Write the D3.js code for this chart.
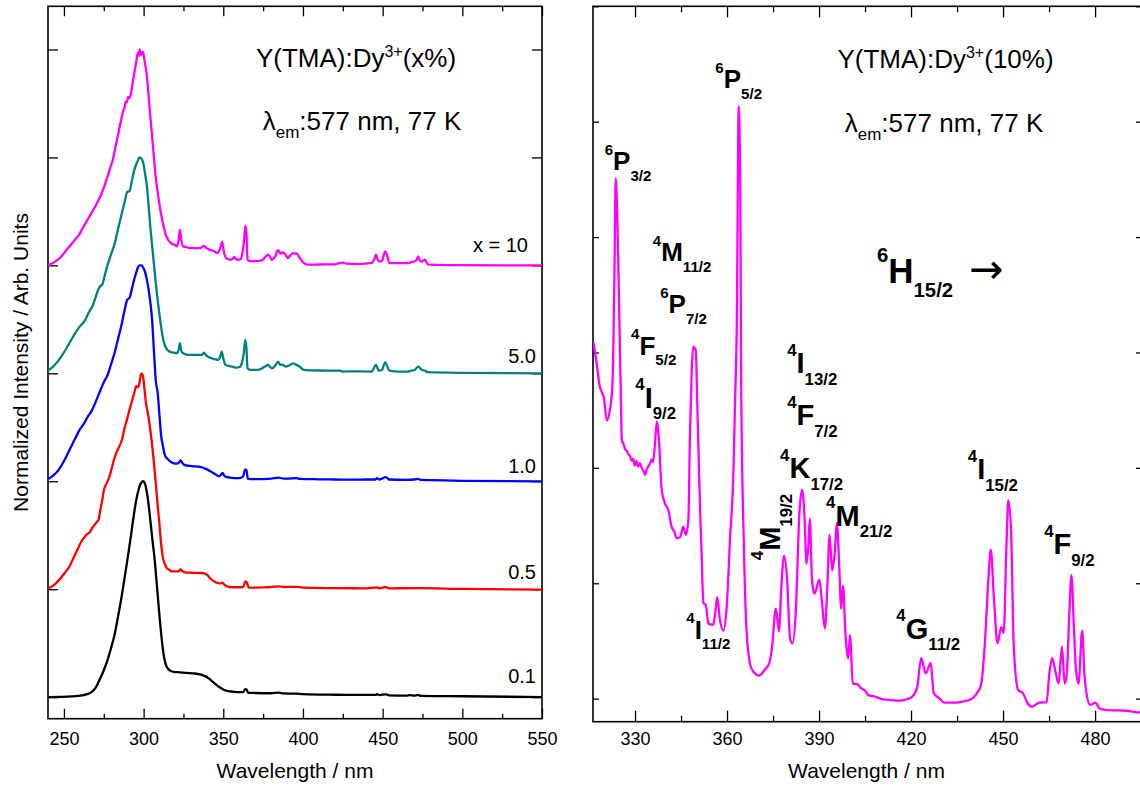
<!DOCTYPE html>
<html>
<head>
<meta charset="utf-8">
<script src="https://cdn.jsdelivr.net/npm/d3@7"></script>
<style>
  html, body { margin: 0; padding: 0; background: #fff; }
  svg { display: block; font-family: "Liberation Sans", Arial, Helvetica, sans-serif; }
</style>
</head>
<body>
<svg id="chart" width="1140" height="788"></svg>
<script>
// ---------- Left panel: excitation spectra for several Dy3+ contents (normalised) ----------
const seriesLabels = ["0.1", "0.5", "1.0", "5.0", "x = 10"];
const seriesColors = ["#000000", "#ff0000", "#0000ff", "#008080", "#ff00ff"];

// [wavelength nm, normalised intensity]
const dy01 = [[240,0],[255,0.003],[261.7,0.008],[265,0.015],[267.3,0.023],[270,0.045],[271.7,0.07],[274.5,0.115],[277.3,0.17],[279.5,0.225],[281.8,0.29],[284,0.375],[286.3,0.47],[288,0.55],[289.7,0.63],[291.9,0.74],[293.6,0.83],[295.3,0.91],[297,0.965],[298.2,0.99],[299.7,1.0],[301,0.985],[302,0.95],[303,0.9],[304.2,0.82],[305.5,0.73],[306.9,0.64],[308.3,0.52],[309.8,0.39],[311.2,0.28],[312.7,0.19],[314,0.15],[315.4,0.13],[317.5,0.12],[319.9,0.116],[323,0.115],[326.6,0.112],[331,0.11],[335.6,0.105],[337.5,0.1],[339,0.096],[340.6,0.088],[342.3,0.078],[344.5,0.064],[346.8,0.05],[349,0.04],[351.3,0.031],[355,0.026],[358,0.023],[362.5,0.023],[363.8,0.037],[364.6,0.035],[365.6,0.02],[370,0.019],[380,0.018],[384.9,0.021],[387,0.017],[396,0.016],[400,0.014],[420,0.011],[434,0.01],[445.5,0.01],[446.5,0.014],[448,0.009],[452,0.013],[454,0.008],[465,0.007],[467,0.009],[470,0.007],[472,0.01],[474,0.006],[500,0.004],[550,0.0]];

const dy05 = [[240,0.003],[243,0.015],[247,0.043],[250.5,0.075],[253.8,0.11],[256,0.145],[258.3,0.18],[260.5,0.215],[262.8,0.24],[264.5,0.255],[266.1,0.262],[267.8,0.285],[269.5,0.3],[271,0.315],[271.7,0.32],[272.3,0.345],[272.9,0.37],[274,0.41],[275.1,0.46],[276.8,0.49],[278.5,0.52],[280,0.56],[281.8,0.61],[284,0.65],[286.3,0.69],[288,0.745],[289.7,0.79],[291.3,0.835],[293,0.88],[294.2,0.91],[295.3,0.94],[296.5,0.935],[297.5,0.96],[298.5,1.0],[299.5,0.99],[300.5,0.93],[301.5,0.86],[302.3,0.83],[303,0.8],[304.5,0.72],[306.5,0.585],[308.2,0.44],[309.8,0.31],[311,0.21],[312,0.15],[313.2,0.12],[314.3,0.1],[316,0.09],[317.7,0.082],[320,0.082],[322,0.083],[323.3,0.092],[324.4,0.083],[326.6,0.077],[330,0.076],[335,0.075],[337.8,0.074],[340,0.065],[342.3,0.046],[344.5,0.035],[346.8,0.028],[348.5,0.027],[349.5,0.03],[350.5,0.022],[353.5,0.01],[358,0.009],[362.5,0.01],[363.8,0.036],[364.8,0.03],[366,0.007],[375,0.008],[380,0.01],[384.9,0.013],[388,0.01],[396,0.011],[400,0.007],[420,0.005],[440,0.004],[446.5,0.008],[448,0.004],[452,0.01],[454,0.004],[472,0.005],[500,0.001],[550,-0.002]];

const dy10 = [[240,0.01],[243,0.025],[246,0.046],[249,0.08],[251.6,0.116],[254.5,0.16],[257.2,0.2],[260,0.24],[262.8,0.27],[265,0.3],[267.3,0.325],[269.5,0.36],[271.7,0.4],[273.4,0.43],[275.1,0.46],[277.3,0.49],[279.5,0.54],[281.8,0.595],[284,0.66],[286.3,0.73],[288,0.79],[289.7,0.84],[291.2,0.85],[292.6,0.89],[294.1,0.935],[295.3,0.965],[296.4,0.99],[297.5,1.0],[298.6,1.0],[299.7,0.99],[300.9,0.97],[302,0.935],[303.1,0.89],[304.2,0.83],[305.3,0.75],[306.5,0.6],[307.6,0.47],[308.8,0.41],[310,0.3],[311,0.21],[312.2,0.16],[313.2,0.124],[314.8,0.105],[316.5,0.093],[318,0.086],[319.9,0.082],[321.5,0.083],[322.5,0.09],[323.3,0.096],[324.2,0.085],[325.5,0.076],[330,0.07],[335.6,0.066],[339,0.057],[341,0.05],[343.4,0.039],[345.5,0.03],[347.2,0.023],[348.5,0.03],[349.5,0.039],[350.5,0.027],[351.7,0.02],[355,0.016],[358,0.014],[361,0.016],[362.5,0.024],[363.8,0.055],[364.6,0.05],[365.4,0.012],[367,0.01],[375,0.01],[378,0.011],[380,0.012],[384.9,0.017],[387,0.013],[390,0.012],[396,0.014],[398,0.011],[410,0.009],[420,0.008],[430,0.007],[440,0.008],[445.4,0.008],[446.5,0.014],[448,0.008],[452,0.019],[454,0.008],[465,0.006],[470,0.008],[472.3,0.011],[474,0.006],[480,0.005],[500,0.002],[550,-0.001]];

const dy50 = [[240,0.012],[243,0.03],[246,0.054],[249,0.085],[251.6,0.116],[255,0.16],[258.3,0.2],[260.5,0.222],[262.8,0.24],[265.5,0.28],[268.4,0.32],[270,0.355],[271.7,0.39],[273,0.405],[274,0.41],[275.5,0.45],[277.3,0.5],[279.5,0.55],[281.8,0.6],[284,0.67],[286.3,0.74],[288,0.79],[289.7,0.84],[290.5,0.842],[291.2,0.845],[292.6,0.89],[294.1,0.94],[295.8,0.975],[297.5,1.0],[298.6,0.995],[299.7,0.977],[300.8,0.93],[302,0.87],[303.1,0.78],[304.2,0.68],[305.9,0.55],[307.6,0.42],[309.3,0.31],[310.9,0.22],[312.2,0.16],[313.6,0.124],[315,0.108],[316.5,0.1],[318.5,0.096],[321,0.093],[322,0.11],[322.8,0.14],[323.6,0.105],[324.8,0.093],[328.9,0.085],[333,0.085],[336.7,0.085],[337.8,0.096],[339,0.085],[342.3,0.07],[344.5,0.066],[346.8,0.062],[348,0.075],[349,0.1],[350,0.07],[351.3,0.039],[353.5,0.034],[355.8,0.031],[358,0.026],[360,0.028],[361.6,0.046],[362.8,0.09],[363.8,0.155],[364.5,0.12],[365.2,0.023],[367,0.016],[372,0.016],[376,0.031],[378.2,0.039],[379.3,0.03],[380.4,0.023],[382.5,0.035],[384.4,0.054],[385.5,0.04],[387.1,0.039],[389.4,0.031],[391,0.035],[393.8,0.046],[396,0.039],[398,0.03],[400.6,0.016],[410,0.013],[423,0.012],[425.2,0.008],[430,0.009],[443.1,0.008],[445.8,0.039],[447.6,0.012],[449.5,0.015],[451.6,0.05],[454.3,0.012],[460,0.008],[465.5,0.008],[468,0.012],[470,0.015],[472.3,0.031],[474.5,0.016],[476.7,0.012],[478,0.005],[500,0.002],[550,0]];

const dy100 = [[240,0],[244,0.015],[248.2,0.04],[251.5,0.07],[254.9,0.1],[257,0.12],[259.4,0.14],[261.6,0.17],[263.9,0.2],[266.7,0.235],[269.5,0.27],[271.2,0.295],[272.9,0.32],[275,0.36],[277.3,0.41],[279,0.45],[280.7,0.49],[282.4,0.55],[284.1,0.61],[285.8,0.67],[287.4,0.72],[288.2,0.735],[288.8,0.76],[289.5,0.755],[290.3,0.78],[291.1,0.775],[291.9,0.79],[293,0.84],[294.1,0.89],[295.2,0.935],[296.4,0.985],[297,0.97],[297.5,1.0],[298.1,0.98],[298.6,0.975],[299.2,0.99],[299.7,0.985],[300.8,0.94],[302,0.88],[303.1,0.79],[304.2,0.69],[305.9,0.55],[307.6,0.41],[309.2,0.32],[310.9,0.24],[312.6,0.18],[314.3,0.134],[316,0.112],[317.7,0.1],[319.4,0.095],[321,0.088],[322,0.12],[322.8,0.165],[323.6,0.12],[324.8,0.088],[326.8,0.085],[328.9,0.08],[332,0.08],[335.6,0.08],[336.7,0.085],[337.8,0.09],[339.5,0.08],[341.2,0.073],[344,0.066],[346.3,0.057],[347.5,0.07],[348.5,0.09],[349.3,0.11],[350.2,0.07],[351.7,0.034],[353.5,0.028],[354.6,0.026],[355.8,0.03],[356.9,0.039],[358,0.028],[359.1,0.026],[361,0.03],[362,0.057],[363,0.11],[363.8,0.184],[364.5,0.15],[365.2,0.026],[367,0.02],[371,0.02],[374.8,0.026],[376.5,0.04],[378.2,0.05],[379.3,0.04],[380.4,0.026],[382.5,0.04],[384.4,0.07],[385.9,0.054],[387,0.06],[388.2,0.057],[389.4,0.045],[390.5,0.034],[392,0.045],[393.8,0.057],[395,0.054],[396,0.055],[397.5,0.04],[399.4,0.02],[402.8,0.003],[410,0.004],[420,0.005],[423,0.011],[425.2,0.013],[427,0.008],[435,0.006],[443.1,0.011],[444.8,0.03],[445.8,0.05],[446.8,0.03],[447.6,0.018],[449.5,0.02],[451.6,0.065],[452.6,0.05],[454.3,0.011],[458,0.01],[465.5,0.01],[468,0.015],[470,0.018],[471.3,0.025],[472.3,0.042],[473.4,0.022],[474.5,0.018],[475.5,0.022],[476.7,0.026],[477.8,0.01],[479,0.003],[490,0.001],[550,0]];

const leftSeries = [dy01, dy05, dy10, dy50, dy100];
const leftTicksMajor = [250, 300, 350, 400, 450, 500, 550];
const leftTicksMinor = [275, 325, 375, 425, 475, 525];
const leftTicksY = [0, 0.5, 1, 1.5, 2, 2.5, 3];

// ---------- Right panel: excitation spectrum of the 10 % sample ----------
// [wavelength nm, intensity (arb.)]
const dy100Detail = [[316.4,3.09],[317.5,2.905],[318.4,2.72],[319.1,2.66],[319.9,2.6],[320.8,2.41],[321.8,2.5],[322.6,2.7],[322.9,2.99],[323.3,3.7],[323.7,4.51],[324.2,4.2],[324.9,3.28],[325.4,2.6],[325.7,2.24],[326.2,2.21],[326.8,2.16],[327.3,2.15],[327.8,2.12],[328.4,2.1],[328.9,2.06],[329.4,2.08],[329.9,2.02],[330.5,2.06],[331,2.01],[331.6,2.04],[332.2,2.0],[332.8,1.97],[333.3,1.94],[333.8,1.99],[334.3,2.01],[334.9,2.04],[335.4,2.07],[335.9,2.05],[336.5,2.21],[337.1,2.4],[337.8,2.24],[338.7,1.81],[339.8,1.69],[340.9,1.63],[341.9,1.49],[342.8,1.45],[343.6,1.39],[344.7,1.4],[345.7,1.49],[346.6,1.42],[347.4,1.55],[347.9,2.27],[348.5,2.85],[349,3.05],[349.8,3.02],[350.3,2.56],[351,1.84],[351.7,1.26],[352.3,0.83],[353.1,0.81],[353.9,0.65],[355.5,0.64],[356.2,0.75],[356.8,0.88],[357.7,0.68],[358.8,0.59],[359.9,0.8],[361,1.4],[362.1,1.98],[362.6,2.56],[363.2,3.28],[363.8,5.135],[364.3,4.5],[364.6,2.76],[365.5,1.32],[366.4,0.57],[367.6,0.29],[368.7,0.23],[370.5,0.2],[372.3,0.25],[373.8,0.31],[374.7,0.45],[375.9,0.78],[377,0.58],[377.6,0.91],[378.6,1.24],[379.6,1.03],[380.6,0.51],[381.4,0.48],[382.4,0.74],[383.6,1.61],[384.5,1.81],[385.3,1.55],[385.9,1.17],[386.5,1.32],[387,1.56],[387.7,1.03],[388.5,0.91],[390.1,1.03],[390.9,0.85],[391.9,0.61],[392.8,1.03],[393.4,1.42],[394.3,1.11],[395.1,1.26],[395.8,1.52],[396.6,1.14],[397.2,0.78],[397.8,0.98],[398.6,0.57],[399.5,0.35],[400.1,0.55],[401,0.13],[402.5,0.126],[403.7,0.09],[405,0.07],[406.1,0.03],[408.4,0.016],[410.8,-0.006],[413,-0.01],[415.5,-0.018],[418,-0.01],[420.3,0.016],[422,0.1],[423.3,0.35],[424.8,0.22],[426.4,0.31],[427.4,0.046],[429.2,0.003],[430.9,-0.035],[434.5,-0.035],[437,-0.025],[439.2,-0.01],[441,0.03],[442.8,0.118],[444,0.45],[445.2,1.03],[446,1.29],[447,0.88],[448.2,0.48],[449.4,0.62],[450.2,0.57],[451.1,1.32],[451.7,1.72],[452.6,1.46],[453.5,0.45],[454.9,0.075],[456.5,0.046],[458,-0.04],[459.4,-0.07],[461.8,-0.035],[464.2,-0.03],[465.1,0.22],[466,0.35],[467.2,0.22],[468.1,0.13],[469.2,0.45],[470.1,0.13],[470.8,0.22],[471.6,0.74],[472.3,1.07],[473.1,0.61],[473.7,0.28],[474.6,0.13],[475.8,0.59],[476.5,0.22],[477.2,0.046],[478.4,-0.055],[480.2,-0.035],[481.4,-0.084],[484.3,-0.1],[490.3,-0.105],[494.7,-0.12],[495.3,-0.12]];
const rightTicksMajor = [330, 360, 390, 420, 450, 480];
const rightTicksMinor = [345, 375, 405, 435, 465, 495];
const rightTicksY = [0, 1, 2, 3, 4, 5, 6];

// Assignments of the 6H15/2 -> level transitions: [pre, term, J]
const levelNames = [
  ["6", "P", "3/2"], ["6", "P", "5/2"], ["4", "M", "11/2"], ["6", "P", "7/2"],
  ["4", "F", "5/2"], ["4", "I", "9/2"], ["4", "I", "13/2"], ["4", "F", "7/2"],
  ["4", "K", "17/2"], ["4", "M", "19/2"], ["4", "M", "21/2"], ["4", "I", "11/2"],
  ["4", "G", "11/2"], ["4", "I", "15/2"], ["4", "F", "9/2"]
];

// ---------- drawing ----------
const svg = d3.select("#chart");
const FONT_TICK = 18, FONT_AXIS = 21;

const xL = d3.scaleLinear().domain([240, 550]).range([48, 542]);
const yL = d3.scaleLinear().domain([-0.1, 3.2]).range([718.7, 6.3]);
const xR = d3.scaleLinear().domain([316.3, 495.3]).range([593, 1142]);
const yR = d3.scaleLinear().domain([-0.2, 6.0]).range([721.7, 6.3]);

const defs = svg.append("defs");
function clip(id, x, y) {
  defs.append("clipPath").attr("id", id).append("rect")
    .attr("x", x.range()[0]).attr("y", y.range()[1])
    .attr("width", x.range()[1] - x.range()[0]).attr("height", y.range()[0] - y.range()[1]);
}
clip("clipL", xL, yL);
clip("clipR", xR, yR);

function frame(x, y, opts) {
  const g = svg.append("g");
  const [x0, x1] = x.range(), [y0, y1] = [y.range()[1], y.range()[0]];
  const style = sel => sel.call(s => s.select(".domain").remove())
    .call(s => s.selectAll("line").attr("stroke", "#000").attr("stroke-width", 1.3));

  // bottom: major with labels, minor without
  g.append("g").attr("transform", `translate(0,${y1})`)
    .call(d3.axisBottom(x).tickValues(opts.major).tickSize(-opts.major_len).tickFormat(d3.format("d")))
    .call(style)
    .call(s => s.selectAll("text").attr("y", 745 - y1).attr("dy", null)
      .attr("font-size", FONT_TICK).attr("font-family", "Liberation Sans, Arial, sans-serif").attr("fill", "#000"));
  g.append("g").attr("transform", `translate(0,${y1})`)
    .call(d3.axisBottom(x).tickValues(opts.minor.filter(v => x(v) < x1 - 1)).tickSize(-opts.minor_len).tickFormat(""))
    .call(style);
  // top mirror
  g.append("g").attr("transform", `translate(0,${y0})`)
    .call(d3.axisTop(x).tickValues(opts.major).tickSize(-opts.major_len).tickFormat(""))
    .call(style);
  g.append("g").attr("transform", `translate(0,${y0})`)
    .call(d3.axisTop(x).tickValues(opts.minor.filter(v => x(v) < x1 - 1)).tickSize(-opts.minor_len).tickFormat(""))
    .call(style);
  // left / right
  g.append("g").attr("transform", `translate(${x0},0)`)
    .call(d3.axisLeft(y).tickValues(opts.yticks).tickSize(-opts.y_len).tickFormat(""))
    .call(style);
  g.append("g").attr("transform", `translate(${x1},0)`)
    .call(d3.axisRight(y).tickValues(opts.yticks).tickSize(-opts.y_len).tickFormat(""))
    .call(style);

  g.append("rect").attr("x", x0).attr("y", y0).attr("width", x1 - x0).attr("height", y1 - y0)
    .attr("fill", "none").attr("stroke", "#000").attr("stroke-width", 1.6);
}

frame(xL, yL, { major: leftTicksMajor, minor: leftTicksMinor, yticks: leftTicksY, major_len: 10, minor_len: 5, y_len: 10 });
frame(xR, yR, { major: rightTicksMajor, minor: rightTicksMinor, yticks: rightTicksY, major_len: 11, minor_len: 6, y_len: 6 });

// left spectra, stacked by 0.5 per sample
const gL = svg.append("g").attr("clip-path", "url(#clipL)");
leftSeries.forEach((data, i) => {
  const off = i * 0.5;
  const line = d3.line().x(d => xL(d[0])).y(d => yL(off + d[1])).curve(d3.curveMonotoneX);
  gL.append("path").datum(data).attr("d", line)
    .attr("fill", "none").attr("stroke", seriesColors[i]).attr("stroke-width", 2.3)
    .attr("stroke-linejoin", "round");
});

// right spectrum
const gR = svg.append("g").attr("clip-path", "url(#clipR)");
gR.append("path").datum(dy100Detail)
  .attr("d", d3.line().x(d => xR(d[0])).y(d => yR(d[1])).curve(d3.curveMonotoneX))
  .attr("fill", "none").attr("stroke", "#ff00ff").attr("stroke-width", 2.3).attr("stroke-linejoin", "round");

// sample labels on the left panel
const seriesLabelPos = [[536, 683.3], [536, 579], [536, 473.3], [536, 363.3], [528, 251.7]];
seriesLabels.forEach((t, i) => {
  svg.append("text").attr("x", seriesLabelPos[i][0]).attr("y", seriesLabelPos[i][1])
    .attr("text-anchor", "end").attr("font-size", 20).text(t);
});

// compound / condition annotations
function titleText(cx, y, tail) {
  const t = svg.append("text").attr("x", cx).attr("y", y).attr("text-anchor", "middle").attr("font-size", 26);
  t.append("tspan").text("Y(TMA):Dy");
  t.append("tspan").attr("font-size", 16).attr("dy", -10).text("3+");
  t.append("tspan").attr("dy", 10).text(tail);
}
function condText(cx, y) {
  const t = svg.append("text").attr("x", cx).attr("y", y).attr("text-anchor", "middle").attr("font-size", 26);
  t.append("tspan").text("\u03bb");
  t.append("tspan").attr("font-size", 17).attr("dy", 8).text("em");
  t.append("tspan").attr("dy", -8).text(":577 nm, 77 K");
}
titleText(356, 66.7, "(x%)");
condText(362, 130);
titleText(945.5, 68.3, "(10%)");
condText(944, 131.7);

// axis titles
svg.append("text").attr("x", (xL.range()[0] + xL.range()[1]) / 2).attr("y", 778.3)
  .attr("text-anchor", "middle").attr("font-size", FONT_AXIS).text("Wavelength / nm");
svg.append("text").attr("x", (593 + 1140) / 2).attr("y", 778.3)
  .attr("text-anchor", "middle").attr("font-size", FONT_AXIS).text("Wavelength / nm");
svg.append("text").attr("transform", `translate(28,${(yL.range()[0] + yL.range()[1]) / 2}) rotate(-90)`)
  .attr("text-anchor", "middle").attr("font-size", FONT_AXIS).text("Normalized Intensity / Arb. Units");

// term-symbol labels: anchored in data space [nm, intensity], font size, rotation
function termLabel(name, nm, v, size, rot) {
  const [pre, term, j] = name;
  const t = svg.append("text")
    .attr("transform", `translate(${xR(nm)},${yR(v)})` + (rot ? ` rotate(${rot})` : ""))
    .attr("font-weight", "bold").attr("font-size", size);
  const small = size * 0.58;
  t.append("tspan").attr("font-size", small).attr("dy", -size * 0.6).text(pre);
  t.append("tspan").attr("dy", size * 0.6).text(term);
  t.append("tspan").attr("font-size", small).attr("dy", size * 0.4).text(j);
  return t;
}
const labelAnchors = [
  [320.1, 4.58, 26], [356.2, 5.29, 26], [335.8, 3.79, 26], [338.2, 3.34, 26],
  [328.7, 2.98, 26], [330.1, 2.52, 29], [379.6, 2.82, 29], [379.6, 2.37, 29],
  [377.3, 1.91, 29], [377.3, 1.20, 29, -90], [392.3, 1.50, 29], [346.7, 0.52, 26],
  [415.2, 0.52, 29], [438.5, 1.90, 29], [463.4, 1.25, 29]
];
levelNames.forEach((n, i) => {
  const a = labelAnchors[i];
  termLabel(n, a[0], a[1], a[2], a[3]);
});

// ground state, followed by the transition arrow
termLabel(["6", "H", "15/2"], 408.9, 3.60, 35);
svg.append("text").attr("x", xR(439.0)).attr("y", yR(3.60))
  .attr("font-family", "DejaVu Sans, sans-serif").attr("font-size", 41).text("\u2192");
</script>
</body>
</html>
